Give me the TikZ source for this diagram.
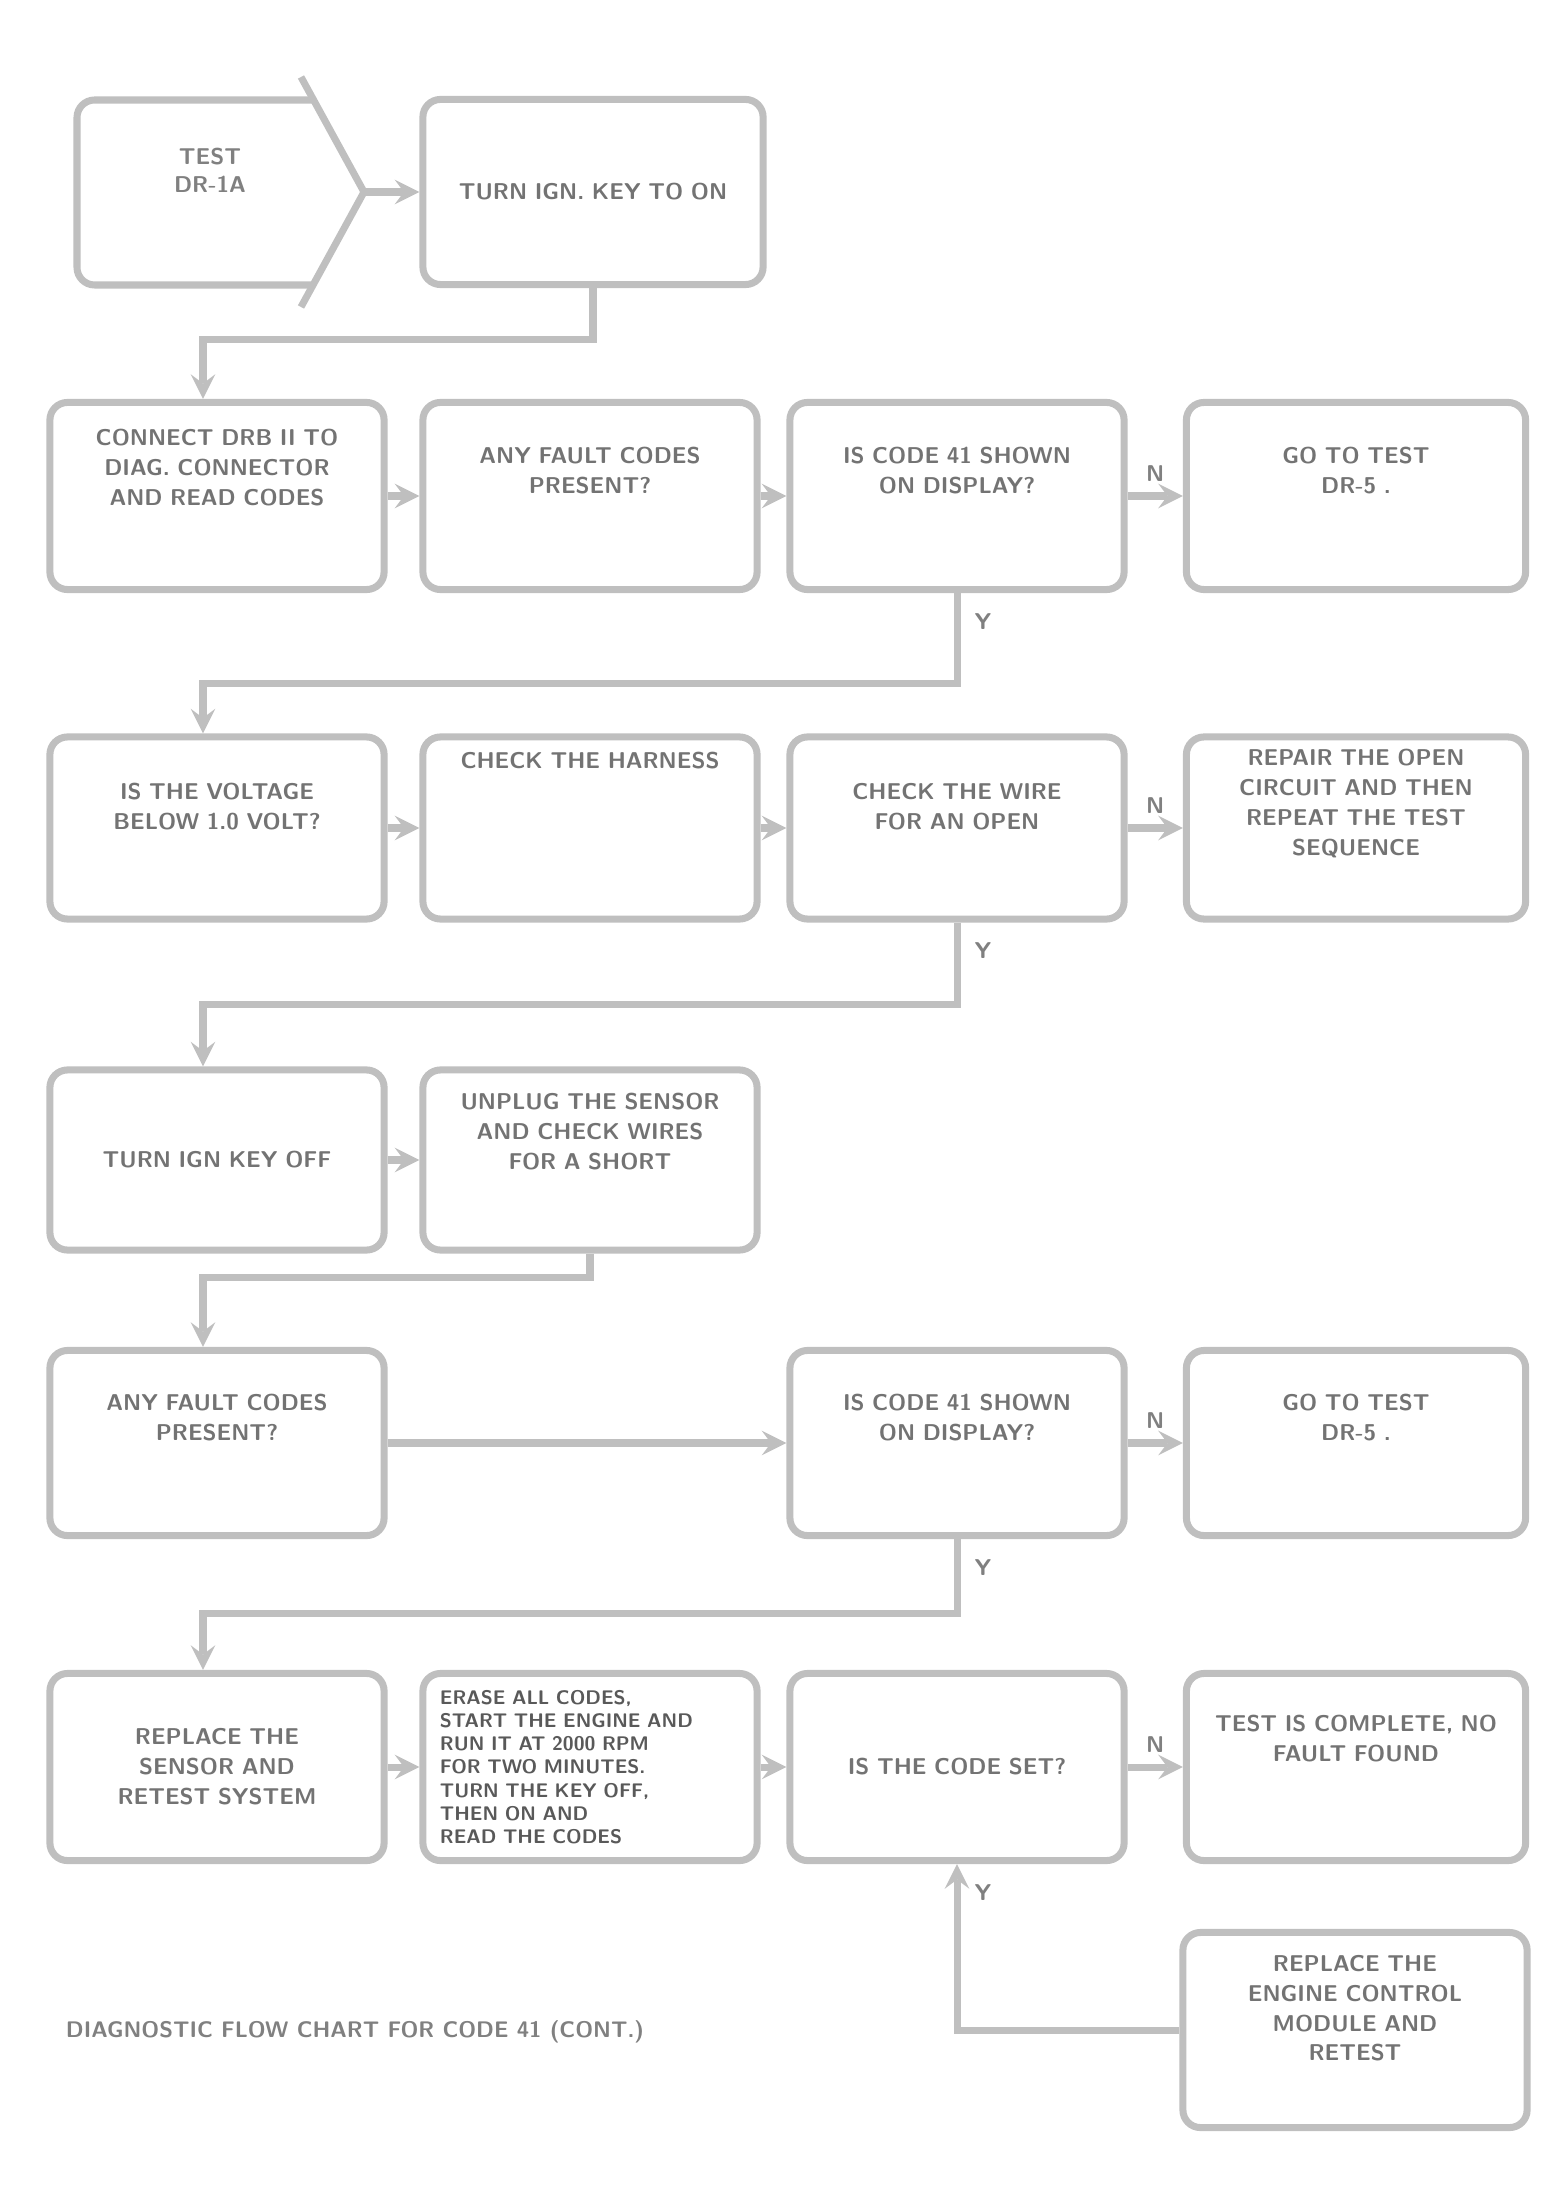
\documentclass[tikz,border=0pt]{standalone}
\usepackage{tikz}
\usetikzlibrary{calc}
\usetikzlibrary{positioning}

\tikzset{
  box/.style={draw=black!25, line width=2pt, rounded corners=5pt,
    minimum width=3.34cm, minimum height=1.85cm, text width=3.0cm,
    align=center, text=black!55,
    font=\sffamily\bfseries\fontsize{6.5}{8.5}\selectfont},
  flow/.style={draw=black!25, line width=2pt, ->, >=stealth},
  tag/.style={text=black!50, font=\sffamily\bfseries\fontsize{6.5}{8}\selectfont},
}

\begin{document}
\begin{tikzpicture}[x=0.01cm, y=-0.01cm]
    \useasboundingbox (0,0) rectangle (1567,2204);

    % Start of the test
    \draw[draw=black!25, line width=2pt, rounded corners=5pt] (314,100) -- (77,100) -- (77,285) -- (314,285);
    \draw[draw=black!25, line width=2pt] (301,77) -- (364,192) -- (301,307);
    \node[tag, align=center] (start) at (210,170) {TEST\\DR-1A};
    \coordinate (tip) at (364,192);
    \node[box, minimum width=3.40cm] (keyon) at (593,192) {TURN IGN. KEY TO ON};

    % Row 2
    \node[box, minimum height=1.87cm] (hookup) at (217,496) {CONNECT DRB II TO\\DIAG. CONNECTOR\\AND READ CODES\\[8pt]\mbox{}};
    \node[box, minimum height=1.87cm] (anycode) at (590,496) {ANY FAULT CODES\\PRESENT?\\[6pt]\mbox{}};
    \node[box, minimum height=1.87cm] (code41) at (957,496) {IS CODE 41 SHOWN\\ON DISPLAY?\\[6pt]\mbox{}};
    \node[box, minimum height=1.87cm, minimum width=3.39cm] (goto) at (1356,496) {GO TO TEST\\DR-5 .\\[6pt]\mbox{}};

    % Row 3
    \node[box, minimum height=1.82cm] (volts) at (217,828) {IS THE VOLTAGE\\BELOW 1.0 VOLT?\\[4pt]\mbox{}};
    \node[box, minimum height=1.82cm] (wiring) at (590,828) {CHECK THE HARNESS\\[30pt]\mbox{}};
    \node[box, minimum height=1.82cm] (open) at (957,828) {CHECK THE WIRE\\FOR AN OPEN\\[4pt]\mbox{}};
    \node[box, minimum height=1.82cm, minimum width=3.39cm] (repair) at (1356,828) {REPAIR THE OPEN\\CIRCUIT AND THEN\\REPEAT THE TEST\\SEQUENCE\\[6pt]\mbox{}};

    % Row 4
    \node[box, minimum height=1.80cm] (keyoff) at (217,1160) {TURN IGN KEY OFF};
    \node[box, minimum height=1.80cm] (unplug) at (590,1160) {UNPLUG THE SENSOR\\AND CHECK WIRES\\FOR A SHORT\\[8pt]\mbox{}};

    % Row 5
    \node[box] (anycodeb) at (217,1443) {ANY FAULT CODES\\PRESENT?\\[6pt]\mbox{}};
    \node[box] (code41b) at (957,1443) {IS CODE 41 SHOWN\\ON DISPLAY?\\[6pt]\mbox{}};
    \node[box, minimum width=3.39cm] (gotob) at (1356,1443) {GO TO TEST\\DR-5 .\\[6pt]\mbox{}};

    % Row 6
    \node[box, minimum height=1.87cm] (sensor) at (217,1767) {REPLACE THE\\SENSOR AND\\RETEST SYSTEM};
    \node[box, minimum height=1.87cm, align=left, text=black!65,
      font=\sffamily\bfseries\fontsize{5.6}{6.6}\selectfont] (steps) at (590,1767)
      {ERASE ALL CODES,\\START THE ENGINE AND\\RUN IT AT 2000 RPM\\FOR TWO MINUTES.\\TURN THE KEY OFF,\\THEN ON AND\\READ THE CODES};
    \node[box, minimum height=1.87cm] (codeset) at (957,1767) {IS THE CODE SET?};
    \node[box, minimum height=1.87cm, minimum width=3.39cm] (done) at (1356,1767) {TEST IS COMPLETE, NO\\FAULT FOUND\\[8pt]\mbox{}};
    \node[box, minimum height=1.95cm, minimum width=3.44cm] (ecu) at (1355,2030) {REPLACE THE\\ENGINE CONTROL\\MODULE AND\\RETEST\\[4pt]\mbox{}};

    \node[tag, font=\sffamily\bfseries\fontsize{6.4}{8}\selectfont] (note) at (355,2032) {DIAGNOSTIC FLOW CHART FOR CODE 41 (CONT.)};

    % Connectors
    \draw[flow] (tip) -- (keyon.west);
    \draw[flow] (keyon.south) -- ++(0,51) -| ($(hookup.north)+(-14,0)$);
    \draw[flow] (hookup.east) -- (anycode.west);
    \draw[flow] (anycode.east) -- (code41.west);
    \draw[flow] (code41.east) -- (goto.west);
    \draw[flow] (code41.south) -- ++(0,90) -| ($(volts.north)+(-14,0)$);
    \draw[flow] (volts.east) -- (wiring.west);
    \draw[flow] (wiring.east) -- (open.west);
    \draw[flow] (open.east) -- (repair.west);
    \draw[flow] (open.south) -- ++(0,82) -| ($(keyoff.north)+(-14,0)$);
    \draw[flow] (keyoff.east) -- (unplug.west);
    \draw[flow] (unplug.south) -- ++(0,24) -| ($(anycodeb.north)+(-14,0)$);
    \draw[flow] (anycodeb.east) -- (code41b.west);
    \draw[flow] (code41b.east) -- (gotob.west);
    \draw[flow] (code41b.south) -- ++(0,74) -| ($(sensor.north)+(-14,0)$);
    \draw[flow] (sensor.east) -- (steps.west);
    \draw[flow] (steps.east) -- (codeset.west);
    \draw[flow] (codeset.east) -- (done.west);
    \draw[flow] (ecu.west) -| (codeset.south);

    % Yes / no marks
    \node[tag] (y1) at ($(code41.south)+(26,28)$) {Y};
    \node[tag] (y2) at ($(open.south)+(26,28)$) {Y};
    \node[tag] (y3) at ($(code41b.south)+(26,28)$) {Y};
    \node[tag] (y4) at ($(codeset.south)+(26,28)$) {Y};
    \node[tag] (n1) at ($(code41.east)!0.5!(goto.west)+(0,-22)$) {N};
    \node[tag] (n2) at ($(open.east)!0.5!(repair.west)+(0,-22)$) {N};
    \node[tag] (n3) at ($(code41b.east)!0.5!(gotob.west)+(0,-22)$) {N};
    \node[tag] (n4) at ($(codeset.east)!0.5!(done.west)+(0,-22)$) {N};
\end{tikzpicture}
\end{document}
